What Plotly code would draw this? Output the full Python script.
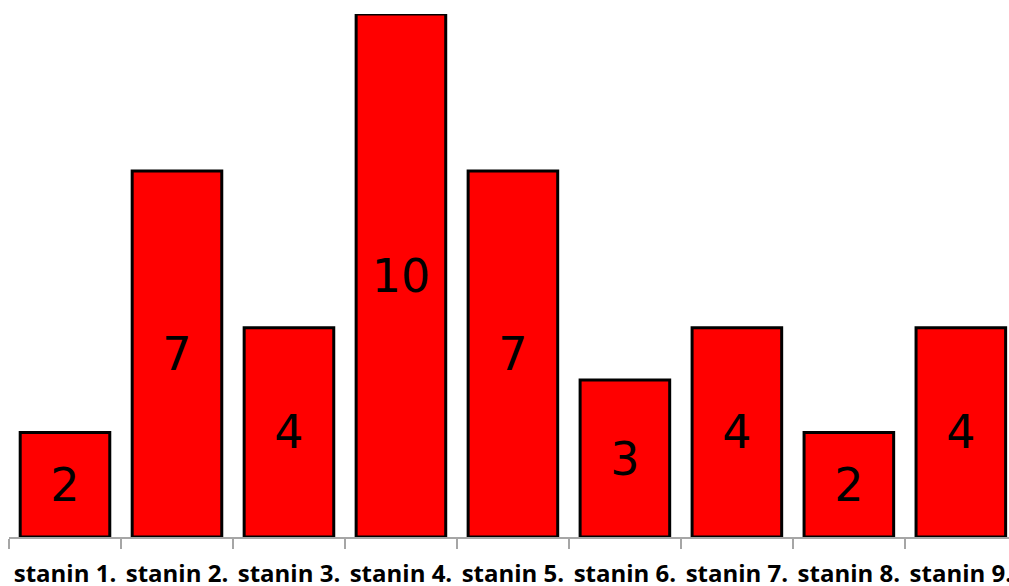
import plotly.graph_objects as go

categories = ["stanin 1.", "stanin 2.", "stanin 3.", "stanin 4.", "stanin 5.",
              "stanin 6.", "stanin 7.", "stanin 8.", "stanin 9."]
values = [2, 7, 4, 10, 7, 3, 4, 2, 4]
labels = [str(v) for v in values]

fig = go.Figure(go.Bar(
    x=categories,
    y=values,
    text=labels,
    textposition="inside",
    insidetextanchor="middle",
    textangle=0,
    textfont=dict(family="DejaVu Sans", size=46, color="black"),
    marker=dict(color="#ff0000", line=dict(color="black", width=3)),
    hoverinfo="skip",
))

fig.update_layout(
    width=1009, height=586,
    margin=dict(l=9, r=0, t=14, b=49, autoexpand=False),
    paper_bgcolor="white", plot_bgcolor="white",
    bargap=0.2,
    showlegend=False,
)
fig.update_xaxes(
    type="category",
    range=[-0.5, 8.43],
    showline=True, linecolor="#a6a6a6", linewidth=1.5,
    ticks="outside", ticklen=10, tickcolor="#a6a6a6", tickwidth=1.5,
    tickson="boundaries",
    ticklabelstandoff=14,
    tickangle=0,
    showgrid=False, zeroline=False,
    automargin=False,
    tickfont=dict(family="Open Sans", size=24, color="black", weight="bold"),
)
fig.update_yaxes(
    range=[0, 10],
    visible=False, showgrid=False, zeroline=False,
)

fig.write_html(
    "out.html",
    config={"displayModeBar": False},
    post_script="document.body.style.margin='0';document.body.style.overflow='hidden';",
)
